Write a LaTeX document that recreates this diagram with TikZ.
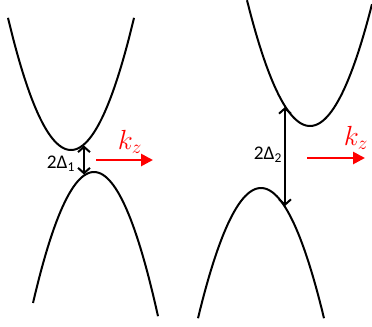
\documentclass[tikz,border=0pt]{standalone}
\usepackage{fontspec}
\newfontfamily\labelfont{Carlito}
\usetikzlibrary{arrows.meta}

\begin{document}
\begin{tikzpicture}[x=0.75pt, y=-0.75pt,
    band/.style={line width=1.5pt, black},
    gap/.style={line width=1.5pt, {Straight Barb[length=4pt,width=9pt]}-{Straight Barb[length=4pt,width=9pt]}},
    kaxis/.style={line width=2pt, red, -{Triangle[length=9pt,width=9pt]}},
    gaplabel/.style={font=\labelfont\fontsize{14.5}{16}\selectfont},
    klabel/.style={text=red, font=\fontsize{21}{24}\selectfont}]
  \useasboundingbox (0,0) rectangle (372,326);

  % Left panel: small gap
  \draw[band] plot[domain=8:134, samples=60] (\x, {150 - 0.0333*(\x-71)^2});
  \draw[band] plot[domain=33:158, samples=60] (\x, {172 + 0.0352*(\x-94)^2});
  \coordinate (cb1) at (84, 145.5);
  \coordinate (vb1) at (84, 174.5);
  \draw[gap] (cb1) -- (vb1);
  \node[gaplabel] (gap1) at (61, 164) {2Δ\textsubscript{1}};
  \coordinate (k1s) at (96, 160);
  \coordinate (k1e) at (153, 160);
  \draw[kaxis] (k1s) -- (k1e);
  \node[klabel] (k1) at (130, 142) {$k_z$};

  % Right panel: large gap
  \draw[band] plot[domain=247:372, samples=60] (\x, {126 - 0.0317*(\x-310)^2});
  \draw[band] plot[domain=198:324, samples=60] (\x, {188 + 0.0328*(\x-261)^2});
  \coordinate (cb2) at (285, 107);
  \coordinate (vb2) at (285, 206);
  \draw[gap] (cb2) -- (vb2);
  \node[gaplabel] (gap2) at (268, 155) {2Δ\textsubscript{2}};
  \coordinate (k2s) at (307, 158);
  \coordinate (k2e) at (365, 158);
  \draw[kaxis] (k2s) -- (k2e);
  \node[klabel] (k2) at (356, 138) {$k_z$};
\end{tikzpicture}
\end{document}
